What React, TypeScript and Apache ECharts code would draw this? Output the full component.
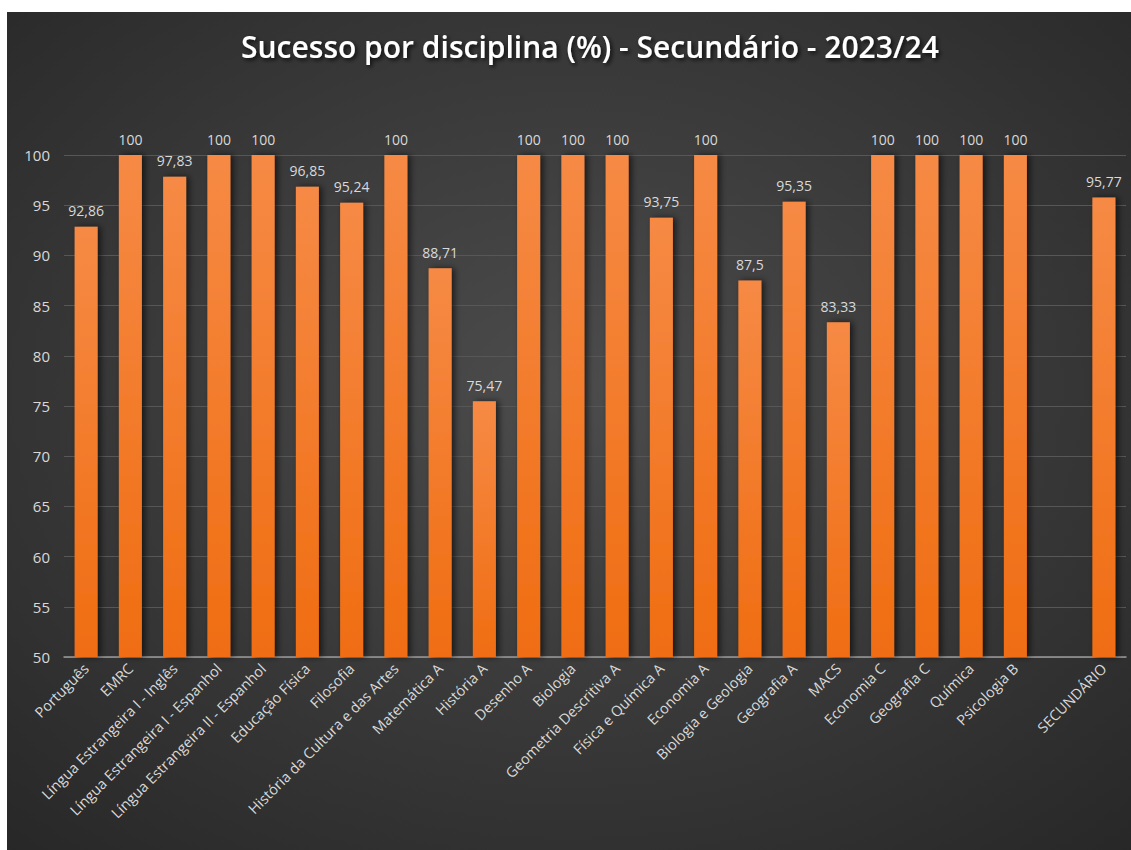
import React, { useEffect, useRef } from "react";
import * as echarts from "echarts";

const categories = [
  "Português",
  "EMRC",
  "Língua Estrangeira I - Inglês",
  "Língua Estrangeira I - Espanhol",
  "Língua Estrangeira II - Espanhol",
  "Educação Física",
  "Filosofia",
  "História da Cultura e das Artes",
  "Matemática A",
  "História A",
  "Desenho A",
  "Biologia",
  "Geometria Descritiva A",
  "Física e Química A",
  "Economia A",
  "Biologia e Geologia",
  "Geografia A",
  "MACS",
  "Economia C",
  "Geografia C",
  "Química",
  "Psicologia B",
  "",
  "SECUNDÁRIO",
];

const values: (number | null)[] = [
  92.86, 100, 97.83, 100, 100, 96.85, 95.24, 100, 88.71, 75.47, 100, 100, 100,
  93.75, 100, 87.5, 95.35, 83.33, 100, 100, 100, 100, null, 95.77,
];

const yTicks = { min: 50, max: 100, interval: 5 };
const titleText = "Sucesso por disciplina (%) - Secundário - 2023/24";

export default function App() {
  const ref = useRef<HTMLDivElement>(null);
  useEffect(() => {
    document.body.style.margin = "0";
    document.body.style.background = "#ffffff";
    const chart = echarts.init(ref.current!, null, { renderer: "svg" });
    const font = "'Open Sans', 'Noto Sans', sans-serif";
    chart.setOption({
      animation: false,
      backgroundColor: {
        type: "radial",
        x: 0.5,
        y: 0.45,
        r: 0.75,
        colorStops: [
          { offset: 0, color: "#4c4c4c" },
          { offset: 1, color: "#272727" },
        ],
      },
      title: {
        text: titleText,
        left: 578,
        top: 14,
        textAlign: "center",
        textStyle: {
          color: "#ffffff",
          fontFamily: font,
          fontWeight: 600,
          fontSize: 30,
          textShadowColor: "rgba(0,0,0,0.8)",
          textShadowBlur: 4,
          textShadowOffsetX: 2,
          textShadowOffsetY: 2,
        },
      },
      grid: { left: 57, right: 5, top: 143, bottom: 193, containLabel: false },
      xAxis: {
        type: "category",
        data: categories,
        axisTick: { show: false },
        axisLine: { lineStyle: { color: "#9a9a9a", width: 1.5 } },
        axisLabel: {
          interval: 0,
          rotate: 45,
          color: "#d9d9d9",
          fontFamily: font,
          fontSize: 14.5,
          margin: 9,
        },
      },
      yAxis: {
        type: "value",
        min: yTicks.min,
        max: yTicks.max,
        interval: yTicks.interval,
        axisLine: { show: false },
        axisTick: { show: false },
        splitLine: { lineStyle: { color: "#575757", width: 1 } },
        axisLabel: {
          color: "#d9d9d9",
          fontFamily: font,
          fontSize: 15,
          margin: 14,
        },
      },
      series: [
        {
          type: "bar",
          data: values,
          barWidth: "52%",
          itemStyle: {
            color: {
              type: "linear",
              x: 0,
              y: 0,
              x2: 0,
              y2: 1,
              colorStops: [
                { offset: 0, color: "#f68a45" },
                { offset: 1, color: "#f06d12" },
              ],
            },
            shadowColor: "rgba(0,0,0,0.6)",
            shadowBlur: 6,
            shadowOffsetX: 3,
            shadowOffsetY: 0,
          },
          label: {
            show: true,
            position: "top",
            distance: 9,
            color: "#d9d9d9",
            fontFamily: font,
            fontSize: 14,
            formatter: (p: any) =>
              p.value == null ? "" : String(p.value).replace(".", ","),
          },
        },
      ],
    });
    return () => chart.dispose();
  }, []);
  return (
    <div
      ref={ref}
      style={{ position: "absolute", left: 7, top: 12, width: 1124, height: 838 }}
    />
  );
}
